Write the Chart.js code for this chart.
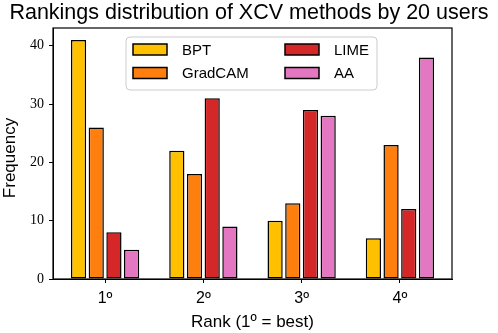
<!DOCTYPE html>
<html><head><meta charset="utf-8">
<script src="https://cdn.jsdelivr.net/npm/chart.js@4/dist/chart.umd.min.js"></script>
<style>html,body{margin:0;padding:0;background:#fff;}#wrap{width:498px;height:333px;position:relative;}</style>
</head><body><div id="wrap"><canvas id="c" width="498" height="333"></canvas></div>
<script>
const categories = ['1º', '2º', '3º', '4º'];
const seriesNames = ['BPT', 'GradCAM', 'LIME', 'AA'];
const bptValues = [41, 22, 10, 7];
const gradcamValues = [26, 18, 13, 23];
const limeValues = [8, 31, 29, 12];
const aaValues = [5, 9, 28, 38];
const yTicks = [0, 10, 20, 30, 40];
const colors = ['#FFC000', '#FF7F0E', '#D62728', '#E377C2'];
const titleText = 'Rankings distribution of XCV methods by 20 users';
const xLabel = 'Rank (1º = best)';
const yLabel = 'Frequency';

const allValues = [bptValues, gradcamValues, limeValues, aaValues];
const datasets = allValues.map((vals, k) => ({
  label: seriesNames[k],
  data: vals.map((v, i) => ({x: i, y: v})),
  backgroundColor: colors[k],
  borderColor: '#000',
  borderWidth: 1.5,
  borderSkipped: false,
  categoryPercentage: 0.72,
  barPercentage: 0.86
}));

const SANS = '"Liberation Sans", "DejaVu Sans", sans-serif';
const SERIF = '"Liberation Serif", "DejaVu Serif", serif';

const decor = {
  id: 'decor',
  afterDraw(chart) {
    const ctx = chart.ctx;
    const a = chart.chartArea;
    ctx.save();
    // frame
    ctx.strokeStyle = '#000';
    ctx.lineWidth = 1.2;
    ctx.strokeRect(a.left, a.top, a.right - a.left, a.bottom - a.top);
    // title
    ctx.fillStyle = '#000';
    ctx.textAlign = 'center';
    ctx.textBaseline = 'middle';
    ctx.font = '21.5px ' + SANS;
    ctx.fillText(titleText, 249, 13);
    // x label
    ctx.font = '17px ' + SANS;
    ctx.fillText(xLabel, (a.left + a.right) / 2, 322);
    // y label
    ctx.save();
    ctx.translate(10, 158);
    ctx.rotate(-Math.PI / 2);
    ctx.fillText(yLabel, 0, 0);
    ctx.restore();
    // legend
    const bx = 126, by = 37, bw = 251, bh = 53, r = 4;
    ctx.beginPath();
    ctx.moveTo(bx + r, by);
    ctx.arcTo(bx + bw, by, bx + bw, by + bh, r);
    ctx.arcTo(bx + bw, by + bh, bx, by + bh, r);
    ctx.arcTo(bx, by + bh, bx, by, r);
    ctx.arcTo(bx, by, bx + bw, by, r);
    ctx.closePath();
    ctx.fillStyle = 'rgba(255,255,255,0.8)';
    ctx.fill();
    ctx.strokeStyle = '#cccccc';
    ctx.lineWidth = 1;
    ctx.stroke();
    ctx.font = '15px ' + SANS;
    ctx.textAlign = 'left';
    chart.data.datasets.forEach((ds, k) => {
      const col = Math.floor(k / 2), row = k % 2;
      const sx = col === 0 ? 133 : 285;
      const cy = row === 0 ? 49.5 : 73;
      ctx.fillStyle = ds.backgroundColor;
      ctx.fillRect(sx, cy - 5.5, 34, 11);
      ctx.strokeStyle = '#000';
      ctx.lineWidth = 1.5;
      ctx.strokeRect(sx, cy - 5.5, 34, 11);
      ctx.fillStyle = '#000';
      ctx.fillText(ds.label, sx + 49, cy + 1);
    });
    ctx.restore();
  }
};

new Chart(document.getElementById('c'), {
  type: 'bar',
  data: { datasets },
  options: {
    responsive: false,
    animation: false,
    layout: { padding: { top: 28, right: 46, left: 0, bottom: 0 } },
    plugins: { legend: { display: false }, tooltip: { enabled: false }, title: { display: false } },
    scales: {
      x: {
        type: 'linear',
        min: -0.53, max: 3.53,
        offset: false,
        afterFit(s) { s.height = 54; },
        afterBuildTicks(s) { s.ticks = categories.map((c, i) => ({ value: i })); },
        grid: { display: true, offset: false, drawOnChartArea: false, drawTicks: true, tickLength: 4, color: '#000', lineWidth: 1 },
        border: { display: true, color: '#000', width: 1 },
        ticks: {
          color: '#000', padding: 6,
          font: { family: SANS, size: 16 },
          callback: (v) => categories[v] !== undefined ? categories[v] : ''
        }
      },
      y: {
        min: 0, max: 43.05,
        afterFit(s) { s.width = 53; },
        afterBuildTicks(s) { s.ticks = yTicks.map(v => ({ value: v })); },
        grid: { display: true, drawOnChartArea: false, drawTicks: true, tickLength: 4, color: '#000', lineWidth: 1 },
        border: { display: true, color: '#000', width: 1 },
        ticks: { color: '#000', padding: 5, font: { family: SERIF, size: 14 } }
      }
    }
  },
  plugins: [decor]
});
</script></body></html>
